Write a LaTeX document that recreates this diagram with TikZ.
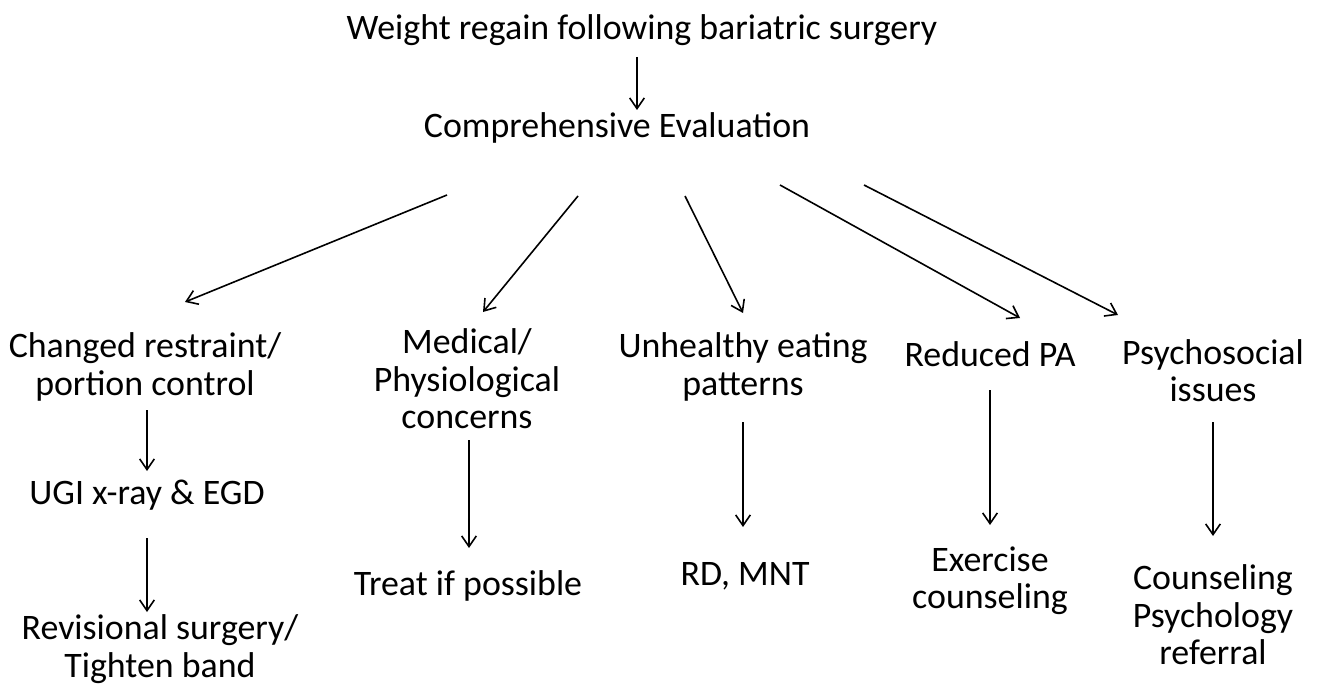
\documentclass[tikz,border=0pt]{standalone}
\usepackage{fontspec}
\setmainfont{Carlito}
\usetikzlibrary{arrows.meta,calc}
\begin{document}
\begin{tikzpicture}[x=0.75pt,y=-0.75pt,
  lbl/.style={inner sep=0pt,align=center,font=\fontsize{26.9pt}{28pt}\selectfont},
  arr/.style={-{Straight Barb[length=8pt,width=11pt]},line width=1.2pt}]
\useasboundingbox[fill=white] (0,0) rectangle (1326,691);
\node[lbl] (title) at (642,30) {Weight regain following bariatric surgery};
\node[lbl] (ce) at (617,128) {Comprehensive Evaluation};
\node[lbl] (n1) at (145,367) {Changed restraint/\\portion control};
\node[lbl] (n2) at (467,379) {Medical/\\Physiological\\concerns};
\node[lbl] (n3) at (743,367) {Unhealthy eating\\patterns};
\node[lbl] (n4) at (990,354) {Reduced PA};
\node[lbl] (n5) at (1213,371) {Psychosocial\\issues};
\node[lbl] (u1) at (147,495) {UGI x-ray \& EGD};
\node[lbl] (r1) at (160,649) {Revisional surgery/\\Tighten band};
\node[lbl] (t2) at (468,586) {Treat if possible};
\node[lbl] (m3) at (745,576) {RD, MNT};
\node[lbl] (e4) at (990,581) {Exercise\\counseling};
\node[lbl] (c5) at (1213,615) {Counseling\\Psychology\\referral};
\draw[arr] ($(title)+(-5,27)$) -- ($(ce)+(20,-18)$);
\draw[arr] ($(ce)+(-170,67)$) -- ($(n1)+(40,-65)$);
\draw[arr] ($(ce)+(-39,68)$) -- ($(n2)+(16,-67)$);
\draw[arr] ($(ce)+(68,68)$) -- ($(n3)+(0,-54)$);
\draw[arr] ($(ce)+(163,57)$) -- ($(n4)+(30,-36)$);
\draw[arr] ($(ce)+(247,57)$) -- ($(n5)+(-95,-56)$);
\draw[arr] ($(n1)+(2,43)$) -- ($(u1)+(0,-24)$);
\draw[arr] ($(u1)+(0,43)$) -- ($(r1)+(-13,-37)$);
\draw[arr] ($(n2)+(2,61)$) -- ($(t2)+(1,-38)$);
\draw[arr] ($(n3)+(0,55)$) -- ($(m3)+(-2,-49)$);
\draw[arr] ($(n4)+(0,36)$) -- ($(e4)+(0,-56)$);
\draw[arr] ($(n5)+(0,51)$) -- ($(c5)+(0,-79)$);
\end{tikzpicture}
\end{document}
